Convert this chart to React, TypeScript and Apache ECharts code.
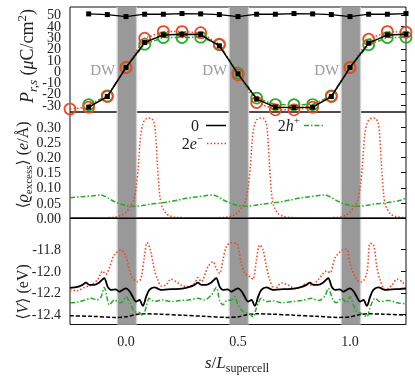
import React, { useEffect, useRef } from "react";
import * as echarts from "echarts";

// ---------- data ----------
// polarization profile sampled at s = k/12
const sPol = [-0.25, -0.1667, -0.0833, 0, 0.0833, 0.1667, 0.25, 0.3333, 0.4167, 0.5, 0.5833, 0.6667, 0.75, 0.8333, 0.9167, 1.0, 1.0833, 1.1667, 1.25];
const pMagnitude = [null, 50.9, 50.3, 48.5, 50.6, 50.6, 51.2, 50.9, 50.3, 48.5, 50.6, 50.6, 51.2, 50.9, 50.3, 48.5, 50.6, 50.6, 51.2];
const pNeutral = [null, -31.7, -22.3, 3.4, 25.5, 32.3, 32.9, 32.6, 22.6, -2.2, -24.6, -31.7, -32.0, -31.7, -22.3, 3.4, 25.0, 32.3, 32.9];
const pElectron = [-33.4, -31.7, -22.3, 3.4, 29.4, 35.2, 35.2, 34.3, 24.1, -3.1, -27.6, -34.1, -34.1, -31.7, -22.3, 3.4, 28.5, 35.2, 34.7];
const pHole = [null, -29.6, -21.7, 3.4, 24.1, 29.9, 29.9, 30.3, 23.5, -1.6, -23.7, -29.4, -29.6, -29.4, -21.7, 3.4, 23.5, 29.9, 30.3];

// domain walls
const wallStart = [-0.036, 0.464, 0.964];
const wallEnd = [0.044, 0.544, 1.044];
const wallHalo = 0.006;
const dwLabelS = [-0.104, 0.396, 0.896];
const dwLabelP = 1;

// excess charge density (e/Å)
const rhoNeutral = [[-0.25, 0], [1.25, 0]];
const rhoElectron = [
  [-0.25, 0.002], [-0.2, 0.002], [-0.15, 0.002], [-0.1, 0.002], [-0.06, 0.003], [-0.04, 0.005], [-0.02, 0.01], [0.0, 0.02], [0.02, 0.04], [0.035, 0.06], [0.045, 0.1], [0.055, 0.17], [0.065, 0.27], [0.075, 0.31], [0.085, 0.325], [0.1, 0.33], [0.115, 0.328], [0.125, 0.315], [0.132, 0.28], [0.14, 0.18], [0.15, 0.08], [0.16, 0.04], [0.18, 0.015], [0.2, 0.007], [0.23, 0.003], [0.28, 0.002],
  [0.35, 0.002], [0.4, 0.002], [0.44, 0.003], [0.46, 0.005], [0.48, 0.01], [0.5, 0.02], [0.52, 0.04], [0.535, 0.06], [0.545, 0.1], [0.555, 0.17], [0.565, 0.27], [0.575, 0.31], [0.585, 0.325], [0.6, 0.33], [0.615, 0.328], [0.625, 0.315], [0.632, 0.28], [0.64, 0.18], [0.65, 0.08], [0.66, 0.04], [0.68, 0.015], [0.7, 0.007], [0.73, 0.003], [0.78, 0.002],
  [0.85, 0.002], [0.9, 0.002], [0.94, 0.003], [0.96, 0.005], [0.98, 0.01], [1.0, 0.02], [1.02, 0.04], [1.035, 0.06], [1.045, 0.1], [1.055, 0.17], [1.065, 0.27], [1.075, 0.31], [1.085, 0.325], [1.1, 0.33], [1.115, 0.328], [1.125, 0.315], [1.132, 0.28], [1.14, 0.18], [1.15, 0.08], [1.16, 0.04], [1.18, 0.015], [1.2, 0.007], [1.23, 0.003], [1.25, 0.002],
];
const rhoHole = [
  [-0.25, 0.068], [-0.2, 0.071], [-0.15, 0.074], [-0.112, 0.077], [-0.09, 0.071], [-0.067, 0.061], [-0.04, 0.051], [-0.02, 0.046], [0.0, 0.042], [0.04, 0.04], [0.08, 0.043], [0.11, 0.047], [0.15, 0.05], [0.19, 0.054], [0.23, 0.06],
  [0.27, 0.066], [0.3, 0.069], [0.35, 0.074], [0.388, 0.077], [0.41, 0.071], [0.433, 0.061], [0.46, 0.051], [0.48, 0.046], [0.5, 0.042], [0.54, 0.04], [0.58, 0.043], [0.61, 0.047], [0.65, 0.05], [0.69, 0.054], [0.73, 0.06],
  [0.77, 0.066], [0.8, 0.069], [0.85, 0.074], [0.888, 0.077], [0.91, 0.071], [0.933, 0.061], [0.96, 0.051], [0.98, 0.046], [1.0, 0.042], [1.04, 0.04], [1.08, 0.043], [1.11, 0.047], [1.15, 0.05], [1.19, 0.054], [1.23, 0.06], [1.25, 0.068],
];

// averaged potential (eV)
const vNeutral = [
  [-0.25, -12.155], [-0.216, -12.145], [-0.194, -12.127], [-0.179, -12.106], [-0.164, -12.127], [-0.142, -12.127], [-0.12, -12.106], [-0.097, -12.066], [-0.082, -12.143], [-0.067, -12.173], [-0.045, -12.167], [-0.03, -12.189], [-0.015, -12.173], [0.0, -12.158], [0.015, -12.183], [0.03, -12.235], [0.045, -12.28], [0.06, -12.265], [0.075, -12.32], [0.09, -12.235], [0.104, -12.173], [0.127, -12.149], [0.157, -12.173], [0.187, -12.167], [0.22, -12.165],
  [0.25, -12.16], [0.284, -12.145], [0.306, -12.127], [0.321, -12.106], [0.336, -12.127], [0.358, -12.127], [0.38, -12.106], [0.403, -12.066], [0.418, -12.143], [0.433, -12.173], [0.455, -12.167], [0.47, -12.189], [0.485, -12.173], [0.5, -12.158], [0.515, -12.183], [0.53, -12.235], [0.545, -12.28], [0.56, -12.265], [0.575, -12.32], [0.59, -12.235], [0.604, -12.173], [0.627, -12.149], [0.657, -12.173], [0.687, -12.167], [0.72, -12.165],
  [0.75, -12.16], [0.784, -12.145], [0.806, -12.127], [0.821, -12.106], [0.836, -12.127], [0.858, -12.127], [0.88, -12.106], [0.903, -12.066], [0.918, -12.143], [0.933, -12.173], [0.955, -12.167], [0.97, -12.189], [0.985, -12.173], [1.0, -12.158], [1.015, -12.183], [1.03, -12.235], [1.045, -12.28], [1.06, -12.265], [1.075, -12.32], [1.09, -12.235], [1.104, -12.173], [1.127, -12.149], [1.157, -12.173], [1.187, -12.167], [1.22, -12.165], [1.25, -12.16],
];
const vElectron = [
  [-0.25, -12.17], [-0.216, -12.18], [-0.187, -12.15], [-0.157, -12.13], [-0.127, -12.08], [-0.104, -12.0], [-0.09, -12.03], [-0.075, -11.975], [-0.052, -11.85], [-0.022, -11.805], [0.0, -11.868], [0.015, -11.99], [0.03, -12.066], [0.052, -12.097], [0.067, -12.066], [0.082, -11.868], [0.094, -11.74], [0.109, -11.806], [0.127, -11.99], [0.142, -12.08], [0.157, -12.137], [0.179, -12.128], [0.2, -12.075], [0.224, -12.097], [0.246, -12.128], [0.276, -12.143], [0.306, -12.112], [0.321, -12.06], [0.336, -12.097], [0.366, -11.96], [0.388, -11.914], [0.403, -11.975], [0.418, -12.02], [0.433, -11.898], [0.448, -11.776], [0.47, -11.74],
  [0.493, -11.745], [0.515, -11.93], [0.53, -12.02], [0.552, -12.05], [0.567, -12.075], [0.582, -11.9], [0.597, -11.76], [0.612, -11.806], [0.627, -11.96], [0.642, -12.08], [0.664, -12.17], [0.694, -12.11], [0.724, -12.128], [0.754, -12.16], [0.784, -12.143], [0.806, -12.112], [0.83, -12.13], [0.858, -12.08], [0.896, -12.0], [0.911, -12.015], [0.933, -11.88], [0.963, -11.81], [0.985, -11.8], [1.0, -11.93], [1.03, -12.08], [1.052, -12.1], [1.075, -12.02], [1.09, -11.745], [1.105, -11.76], [1.12, -11.96], [1.134, -12.08], [1.157, -12.17], [1.187, -12.13], [1.21, -12.075], [1.232, -12.097], [1.25, -12.14],
];
const vHole = [
  [-0.25, -12.29], [-0.216, -12.285], [-0.19, -12.27], [-0.157, -12.25], [-0.13, -12.265], [-0.112, -12.24], [-0.097, -12.15], [-0.082, -12.27], [-0.075, -12.31], [-0.052, -12.265], [-0.03, -12.29], [-0.015, -12.28], [0.0, -12.235], [0.022, -12.31], [0.037, -12.37], [0.06, -12.38], [0.075, -12.41], [0.09, -12.33], [0.104, -12.25], [0.127, -12.28], [0.16, -12.265], [0.2, -12.28], [0.24, -12.27], [0.28, -12.265], [0.321, -12.25], [0.35, -12.265], [0.381, -12.22], [0.403, -12.15], [0.418, -12.27], [0.433, -12.31], [0.45, -12.27], [0.47, -12.265],
  [0.485, -12.235], [0.5, -12.31], [0.515, -12.357], [0.53, -12.38], [0.552, -12.39], [0.567, -12.42], [0.582, -12.34], [0.605, -12.25], [0.627, -12.28], [0.66, -12.275], [0.694, -12.29], [0.74, -12.28], [0.784, -12.27], [0.828, -12.25], [0.86, -12.27], [0.888, -12.23], [0.903, -12.158], [0.925, -12.27], [0.94, -12.29], [0.963, -12.25], [0.985, -12.29], [1.0, -12.235], [1.015, -12.31], [1.03, -12.37], [1.052, -12.39], [1.075, -12.42], [1.09, -12.33], [1.112, -12.25], [1.134, -12.28], [1.172, -12.27], [1.21, -12.29], [1.25, -12.3],
];
const vReference = [
  [-0.25, -12.41], [-0.15, -12.415], [-0.05, -12.425], [0.0, -12.42], [0.04, -12.4], [0.08, -12.392], [0.15, -12.395], [0.25, -12.405], [0.35, -12.415], [0.45, -12.425], [0.5, -12.42], [0.54, -12.4], [0.58, -12.392], [0.65, -12.395], [0.75, -12.405], [0.85, -12.415], [0.95, -12.425], [1.0, -12.42], [1.04, -12.4], [1.08, -12.392], [1.15, -12.395], [1.25, -12.405],
];

// tick labels
const xTicks = [0, 0.5, 1.0];
const pTicks = [-30, -20, -10, 0, 10, 20, 30, 40, 50];
const pTicksOdd = [-30, -10, 10, 30, 50];
const pTicksEven = [-20, 0, 20, 40];
const rhoTicks = [0, 0.05, 0.1, 0.15, 0.2, 0.25, 0.3];
const vTicks = [-12.4, -12.2, -12.0, -11.8];

// ---------- styling ----------
const FONT = "'Liberation Serif', 'DejaVu Serif', serif";
const RED = "#ef4520";
const GREEN = "#23ab23";
const DASHDOT = [5, 2, 1.5, 2];
const DOTTED = [1.5, 2];

const pairs = (xs: number[], ys: (number | null)[]) =>
  xs.map((x, i) => [x, ys[i]]).filter((d) => d[1] !== null);

export default function App() {
  const ref = useRef<HTMLDivElement>(null);

  useEffect(() => {
    const chart = echarts.init(ref.current!, null, { renderer: "svg" });

    const grids = [
      { left: 70, top: 7, width: 336, height: 105 },
      { left: 70, top: 112, width: 336, height: 106.3 },
      { left: 70, top: 218.3, width: 336, height: 106.2 },
    ].map((g) => ({ ...g, show: true, borderColor: "#111", borderWidth: 1, backgroundColor: "transparent" }));

    const yRanges = [
      { min: -36, max: 57, ticks: pTicks, labels: pTicksOdd, fmt: (v: number) => String(v) },
      { min: 0, max: 0.35, ticks: rhoTicks, labels: rhoTicks, fmt: (v: number) => v.toFixed(2) },
      { min: -12.49, max: -11.516, ticks: vTicks, labels: vTicks, fmt: (v: number) => v.toFixed(1) },
    ];

    const labelStyle = { fontFamily: FONT, fontSize: 14, color: "#222", margin: 9 };

    const xAxes = [0, 1, 2].map((i) => ({
      gridIndex: i,
      type: "value",
      min: -0.25,
      max: 1.25,
      axisLine: { show: false },
      splitLine: { show: false },
      axisTick:
        i === 2
          ? { show: true, inside: true, length: 5, customValues: xTicks, lineStyle: { color: "#111" } }
          : { show: false },
      axisLabel:
        i === 2
          ? { show: true, customValues: xTicks, showMinLabel: true, showMaxLabel: true, formatter: (v: number) => v.toFixed(1), ...labelStyle, margin: 10 }
          : { show: false },
    }));

    const yLeft = yRanges.map((r, i) => ({
      gridIndex: i,
      type: "value",
      position: "left",
      min: r.min,
      max: r.max,
      axisLine: { show: false },
      splitLine: { show: false },
      axisTick: { show: true, inside: true, length: 5, customValues: r.ticks, lineStyle: { color: "#111" } },
      axisLabel: {
        show: true, customValues: r.labels, showMinLabel: true, showMaxLabel: true, hideOverlap: false,
        formatter: r.fmt, ...labelStyle,
      },
    }));
    const yRight = yRanges.map((r, i) => ({
      gridIndex: i,
      type: "value",
      position: "right",
      min: r.min,
      max: r.max,
      axisLine: { show: false },
      splitLine: { show: false },
      axisTick: { show: true, inside: true, length: 5, customValues: r.ticks, lineStyle: { color: "#111" } },
      axisLabel: { show: false },
    }));
    // second label set for the top panel (alternate tick labels)
    const yTopEven = {
      gridIndex: 0,
      type: "value",
      position: "left",
      offset: 0,
      min: -36,
      max: 57,
      axisLine: { show: false },
      splitLine: { show: false },
      axisTick: { show: false },
      axisLabel: {
        show: true, customValues: pTicksEven, showMinLabel: true, showMaxLabel: true, hideOverlap: false,
        formatter: (v: number) => String(v), ...labelStyle,
      },
    };

    const bandData: any[] = [];
    wallStart.forEach((a, i) => {
      bandData.push([{ xAxis: a - wallHalo, itemStyle: { color: "#d2d2d2" } }, { xAxis: wallEnd[i] + wallHalo }]);
    });
    wallStart.forEach((a, i) => {
      bandData.push([{ xAxis: a, itemStyle: { color: "#999999" } }, { xAxis: wallEnd[i] }]);
    });

    const bandSeries = [0, 1, 2].map((i) => ({
      type: "line",
      xAxisIndex: i,
      yAxisIndex: i,
      data: [],
      z: 1,
      silent: true,
      markArea: { silent: true, data: bandData, itemStyle: { opacity: 1 } },
      ...(i === 0
        ? {
            markPoint: {
              silent: true,
              symbol: "circle",
              symbolSize: 1,
              itemStyle: { color: "rgba(0,0,0,0)" },
              label: { show: true, position: "inside", formatter: "DW", color: "#9a9a9a", fontSize: 15, fontFamily: FONT },
              data: dwLabelS.map((s) => ({ coord: [s, dwLabelP] })),
            },
          }
        : {}),
    }));

    const circle = (color: string) => ({
      symbol: "circle",
      symbolSize: 11,
      itemStyle: { color: "rgba(0,0,0,0)", borderColor: color, borderWidth: 1.7 },
    });

    const series: any[] = [
      ...bandSeries,
      // top panel
      {
        type: "line", xAxisIndex: 0, yAxisIndex: 0, z: 3,
        data: pairs(sPol, pHole),
        lineStyle: { color: GREEN, width: 1.5, type: DASHDOT },
        ...circle(GREEN),
      },
      {
        type: "line", xAxisIndex: 0, yAxisIndex: 0, z: 4,
        data: pairs(sPol, pElectron),
        lineStyle: { color: RED, width: 1.5, type: DOTTED },
        ...circle(RED),
      },
      {
        type: "line", xAxisIndex: 0, yAxisIndex: 0, z: 5,
        data: pairs(sPol, pNeutral),
        lineStyle: { color: "#000", width: 1.5 },
        symbol: "rect", symbolSize: 5, itemStyle: { color: "#000" },
      },
      {
        type: "line", xAxisIndex: 0, yAxisIndex: 0, z: 5,
        data: pairs(sPol, pMagnitude),
        lineStyle: { color: "#000", width: 1.3 },
        symbol: "rect", symbolSize: 5, itemStyle: { color: "#000" },
      },
      // middle panel
      {
        type: "line", xAxisIndex: 1, yAxisIndex: 1, z: 3, showSymbol: false,
        data: rhoHole, smooth: 0.3,
        lineStyle: { color: GREEN, width: 1.5, type: DASHDOT },
      },
      {
        type: "line", xAxisIndex: 1, yAxisIndex: 1, z: 4, showSymbol: false,
        data: rhoElectron, smooth: 0.3,
        lineStyle: { color: RED, width: 1.5, type: DOTTED },
      },
      {
        type: "line", xAxisIndex: 1, yAxisIndex: 1, z: 5, showSymbol: false,
        data: rhoNeutral,
        lineStyle: { color: "#000", width: 1.5 },
      },
      // bottom panel
      {
        type: "line", xAxisIndex: 2, yAxisIndex: 2, z: 3, showSymbol: false,
        data: vReference, smooth: 0.3,
        lineStyle: { color: "#000", width: 1.5, type: [4, 2] },
      },
      {
        type: "line", xAxisIndex: 2, yAxisIndex: 2, z: 3, showSymbol: false,
        data: vHole, smooth: 0.3,
        lineStyle: { color: GREEN, width: 1.5, type: DASHDOT },
      },
      {
        type: "line", xAxisIndex: 2, yAxisIndex: 2, z: 4, showSymbol: false,
        data: vElectron, smooth: 0.3,
        lineStyle: { color: RED, width: 1.6, type: DOTTED },
      },
      {
        type: "line", xAxisIndex: 2, yAxisIndex: 2, z: 5, showSymbol: false,
        data: vNeutral, smooth: 0.3,
        lineStyle: { color: "#000", width: 1.8 },
      },
    ];

    const makeRich = (fs: number) => {
      const sfs = Math.round(fs * 0.7);
      const lh = fs + 6;
      const base = { fontFamily: FONT, fill: "#222", color: "#222" };
      return {
        i: { ...base, fontStyle: "italic", fontSize: fs, lineHeight: lh },
        r: { ...base, fontSize: fs, lineHeight: lh },
        sub: { ...base, fontSize: sfs, lineHeight: sfs - 1, verticalAlign: "bottom" },
        isub: { ...base, fontSize: sfs, fontStyle: "italic", lineHeight: sfs - 1, verticalAlign: "bottom" },
        sup: { ...base, fontSize: sfs, lineHeight: sfs - 1, verticalAlign: "top" },
      };
    };

    const title = (text: string, x: number, y: number, rotate: boolean, fs = 16, align = "center") => ({
      type: "text",
      x,
      y,
      rotation: rotate ? Math.PI / 2 : 0,
      silent: true,
      style: {
        text,
        rich: makeRich(fs),
        fontSize: fs,
        fontFamily: FONT,
        fill: "#222",
        align,
        textAlign: align,
        verticalAlign: "middle",
        textVerticalAlign: "middle",
      },
    });

    const legendLine = (x1: number, x2: number, y: number, color: string, dash: any) => ({
      type: "line",
      silent: true,
      shape: { x1, y1: y, x2, y2: y },
      style: { stroke: color, lineWidth: 1.5, lineDash: dash },
    });

    const graphic = [
      title("{i|P}{isub|r,s}{r| (}{i|μ}{r|C/cm}{sup|2}{r|)}", 27, 56, true, 18),
      title("{r|⟨}{i|ϱ}{sub|excess}{r|⟩ (}{i|e}{r|/Å)}", 22, 165, true, 16),
      title("{r|⟨}{i|V}{r|⟩ (eV)}", 22, 292, true, 16),
      title("{i|s}{r|/}{i|L}{sub|supercell}", 237, 362, false, 17),
      // legend
      title("{r|0}", 199, 125.5, false, 16, "right"),
      legendLine(206, 226, 125.5, "#000", null),
      title("{r|2}{i|e}{sup|−}", 203, 143.5, false, 16, "right"),
      legendLine(207, 226, 143.5, RED, DOTTED),
      title("{r|2}{i|h}{sup|+}", 300, 125.5, false, 16, "right"),
      legendLine(304, 324, 125.5, GREEN, DASHDOT),
    ];

    chart.setOption({
      animation: false,
      grid: grids,
      xAxis: xAxes,
      yAxis: [...yLeft, ...yRight, yTopEven],
      series,
      graphic,
    });

    return () => chart.dispose();
  }, []);

  return <div ref={ref} style={{ position: "fixed", left: 0, top: 0, width: 415, height: 377 }} />;
}
